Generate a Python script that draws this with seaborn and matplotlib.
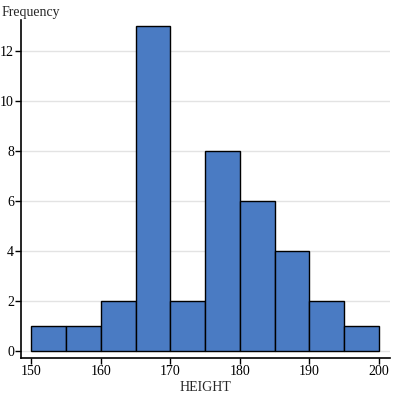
import pandas as pd
import matplotlib.pyplot as plt
import seaborn as sns

bin_edges = [150, 155, 160, 165, 170, 175, 180, 185, 190, 195, 200]
bin_mids = [152.5, 157.5, 162.5, 167.5, 172.5, 177.5, 182.5, 187.5, 192.5, 197.5]
counts = [1, 1, 2, 13, 2, 8, 6, 4, 2, 1]

df = pd.DataFrame({'HEIGHT': bin_mids, 'count': counts})

sns.set_style('white')
plt.rcParams['font.family'] = ['Liberation Serif', 'DejaVu Serif']

fig = plt.figure(figsize=(3.98, 3.98), dpi=100)
ax = fig.add_axes([0.0528, 0.1005, 0.927, 0.8492])

sns.histplot(data=df, x='HEIGHT', weights='count', bins=bin_edges,
             color='#4a7bc3', alpha=1, edgecolor='black', linewidth=1, ax=ax)

ax.set_xlim(148.5, 201.6)
ax.set_ylim(-0.28, 13.25)
ax.set_yticks([0, 2, 4, 6, 8, 10, 12])
ax.set_xticks([150, 160, 170, 180, 190, 200])
ax.yaxis.grid(True, color='#e3e3e3', linewidth=1)
ax.set_axisbelow(True)
for s in ['top', 'right']:
    ax.spines[s].set_visible(False)
for s in ['left', 'bottom']:
    ax.spines[s].set_color('black')
    ax.spines[s].set_linewidth(1.2)
ax.tick_params(axis='both', direction='out', length=4, width=1, labelsize=10,
               colors='black', pad=1, left=True, bottom=True)
ax.set_ylabel('')
ax.set_xlabel('HEIGHT', fontsize=10, labelpad=2)
fig.text(0.005, 0.985, 'Frequency', fontsize=10, ha='left', va='top')

plt.savefig('out.png', dpi=100)
